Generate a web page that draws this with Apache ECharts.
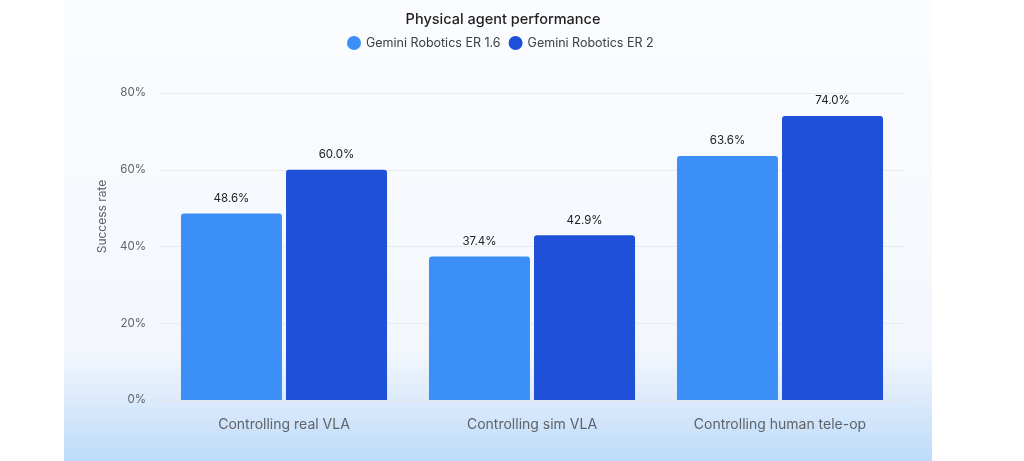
<!DOCTYPE html>
<html>
<head>
<meta charset="utf-8">
<script src="https://cdn.jsdelivr.net/npm/echarts@6/dist/echarts.min.js"></script>
<style>
  html, body { margin: 0; padding: 0; background: #ffffff; }
  #eChart { width: 1024px; height: 461px; }
</style>
</head>
<body>
<div id="eChart"></div>
<script>
var categories = ['Controlling real VLA', 'Controlling sim VLA', 'Controlling human tele-op'];
var seriesNames = ['Gemini Robotics ER 1.6', 'Gemini Robotics ER 2'];
var er16 = [48.6, 37.4, 63.6];
var er2 = [60.0, 42.9, 74.0];
var yTicks = [0, 20, 40, 60, 80];

var font = 'Inter, "Noto Sans", sans-serif';

function barSeries(name, data, color) {
    return {
        name: name,
        type: 'bar',
        data: data,
        barWidth: 101,
        barGap: '4%',
        itemStyle: { color: color, borderRadius: [3, 3, 0, 0] },
        label: {
            show: true,
            position: 'top',
            distance: 9,
            color: '#202124',
            fontSize: 11.5,
            fontFamily: font,
            formatter: function (p) { return p.value.toFixed(1) + '%'; }
        }
    };
}

var option = {
    backgroundColor: '#ffffff',
    // panel behind the chart, light blue towards the bottom
    graphic: [{
        type: 'rect',
        z: -10,
        silent: true,
        shape: { x: 64, y: 0, width: 868, height: 461 },
        style: {
            fill: {
                type: 'linear', x: 0, y: 0, x2: 0, y2: 1,
                colorStops: [
                    { offset: 0, color: '#fbfcfe' },
                    { offset: 0.76, color: '#f3f7fd' },
                    { offset: 0.88, color: '#d9e9fb' },
                    { offset: 1, color: '#bcdbf9' }
                ]
            }
        }
    }],
    title: {
        text: 'Physical agent performance',
        left: 498,
        textAlign: 'center',
        top: 7,
        textStyle: { fontFamily: font, fontSize: 14.5, fontWeight: 500, color: '#1f1f1f' }
    },
    legend: {
        data: seriesNames,
        left: 347,
        top: 36,
        padding: 0,
        itemWidth: 14,
        itemHeight: 14,
        itemGap: 8,
        icon: 'circle',
        textStyle: { fontFamily: font, fontSize: 12.5, color: '#3c4043' }
    },
    grid: { left: 160, right: 120, top: 93, bottom: 61 },
    xAxis: {
        type: 'category',
        data: categories,
        axisTick: { show: false },
        axisLine: { lineStyle: { color: '#e3e6ea' } },
        axisLabel: { margin: 18, color: '#5f6368', fontSize: 14, fontFamily: font }
    },
    yAxis: {
        type: 'value',
        min: yTicks[0],
        max: yTicks[yTicks.length - 1],
        interval: 20,
        name: 'Success rate',
        nameLocation: 'middle',
        nameGap: 52,
        nameTextStyle: { color: '#5f6368', fontSize: 12, fontFamily: font, padding: [0, 0, 0, 60] },
        axisLine: { show: false },
        axisTick: { show: false },
        splitLine: { lineStyle: { color: '#e8ebef' } },
        axisLabel: { margin: 14, color: '#5f6368', fontSize: 11.5, fontFamily: font, formatter: '{value}%' }
    },
    series: [
        barSeries(seriesNames[0], er16, '#3d8ff8'),
        barSeries(seriesNames[1], er2, '#1e51d8')
    ]
};

var chart = echarts.init(document.getElementById('eChart'));
chart.setOption(option);
</script>
</body>
</html>
